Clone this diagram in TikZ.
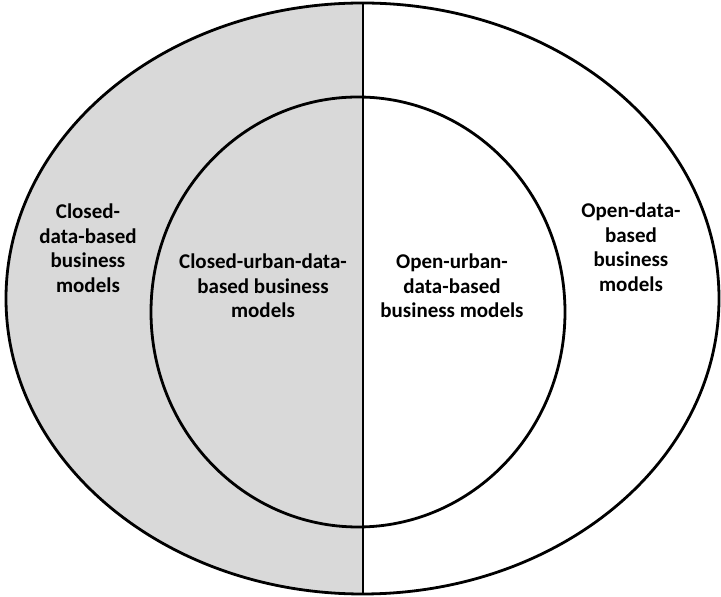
\documentclass[tikz,border=0pt]{standalone}
\usepackage{fontspec}
\setmainfont{Carlito}

\begin{document}
\begin{tikzpicture}[x=1pt,y=1pt,
  eticheta/.style={align=center,font=\bfseries\fontsize{21}{24.5}\selectfont,inner sep=0pt}]
  \useasboundingbox (0,0) rectangle (721,597);

  % jumătatea închisă
  \begin{scope}
    \clip (0,0) rectangle (363,597);
    \fill[gray!30] (362.5,298.5) ellipse (356.5 and 295.5);
  \end{scope}

  % elipsele
  \draw[line width=2.8pt] (362.5,298.5) ellipse (356.5 and 295.5);
  \draw[line width=2.8pt] (358,285) ellipse (207 and 215);

  % linia de mijloc
  \coordinate (sus) at (363,594);
  \coordinate (jos) at (363,3);
  \draw[line width=2.8pt] (sus) -- (jos);

  % etichete
  \node[eticheta] (inchis) at (88,349) {Closed-\\data-based\\business\\models};
  \node[eticheta] (inchisUrban) at (263,311) {Closed-urban-data-\\based business\\models};
  \node[eticheta] (deschisUrban) at (452,311) {Open-urban-\\data-based\\business models};
  \node[eticheta] (deschis) at (631,350) {Open-data-\\based\\business\\models};
\end{tikzpicture}
\end{document}
